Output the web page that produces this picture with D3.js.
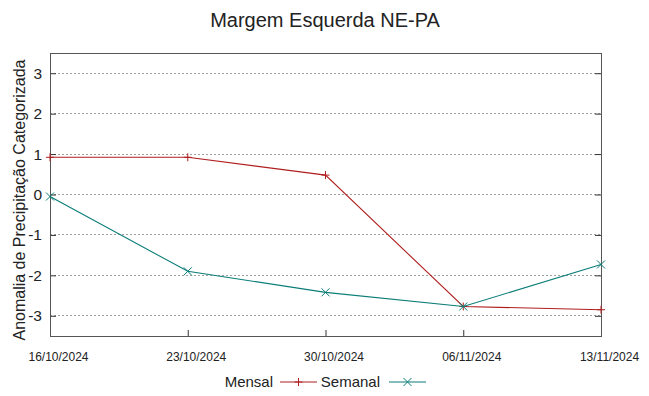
<!DOCTYPE html>
<html>
<head>
<meta charset="utf-8">
<script src="https://cdn.jsdelivr.net/npm/d3@7"></script>
<style>
  body { margin: 0; background: #fff; }
  svg text { font-family: "Liberation Sans", Arial, sans-serif; fill: #222; }
</style>
</head>
<body>
<svg id="chart"></svg>
<script>
// Data
const dates = ["16/10/2024", "23/10/2024", "30/10/2024", "06/11/2024", "13/11/2024"];
const mensal = [0.92, 0.92, 0.48, -2.77, -2.85];
const semanal = [-0.05, -1.9, -2.42, -2.77, -1.73];
const yTicks = [-3, -2, -1, 0, 1, 2, 3];

const width = 649, height = 396;
const margin = { top: 53, right: 48, bottom: 60, left: 50 };
const innerW = width - margin.left - margin.right;
const innerH = height - margin.top - margin.bottom;

const parse = d3.timeParse("%d/%m/%Y");
const fmt = d3.timeFormat("%d/%m/%Y");

const svg = d3.select("#chart").attr("width", width).attr("height", height);
const chart = svg.append("g").attr("transform", `translate(${margin.left},${margin.top})`);

const x = d3.scaleTime()
  .domain(d3.extent(dates, parse))
  .range([0, innerW]);
const y = d3.scaleLinear().domain([-3.5, 3.5]).range([innerH, 0]);

// grid lines
chart.append("g")
  .selectAll("line")
  .data(yTicks)
  .join("line")
  .attr("x1", 0).attr("x2", innerW)
  .attr("y1", d => y(d)).attr("y2", d => y(d))
  .attr("stroke", "#a0a0a0")
  .attr("stroke-dasharray", "2,2")
  .attr("shape-rendering", "crispEdges");

// axes with inward ticks (gnuplot style)
const yAxisL = d3.axisLeft(y).tickValues(yTicks).tickSize(-6).tickSizeOuter(0)
  .tickPadding(8).tickFormat(d => String(d));
const yAxisR = d3.axisRight(y).tickValues(yTicks).tickSize(-6).tickSizeOuter(0).tickFormat("");
const xAxis = d3.axisBottom(x).tickValues(dates.map(parse)).tickSize(-6).tickSizeOuter(0)
  .tickFormat(fmt).tickPadding(16);

const gy = chart.append("g").call(yAxisL);
gy.selectAll("text").style("font-size", "15.5px");
chart.append("g").attr("transform", `translate(${innerW},0)`).call(yAxisR);
const gx = chart.append("g").attr("transform", `translate(0,${innerH})`).call(xAxis);
gx.selectAll("text").style("font-size", "12px").attr("dx", 8);
chart.selectAll(".domain").remove();
chart.selectAll(".tick line").attr("stroke", "#333");

// border
chart.append("rect")
  .attr("x", 0).attr("y", 0)
  .attr("width", innerW).attr("height", innerH)
  .attr("fill", "none")
  .attr("stroke", "#555")
  .attr("shape-rendering", "crispEdges");

const series = [
  { name: "Mensal", values: mensal, color: "#b01e1e", marker: "plus" },
  { name: "Semanal", values: semanal, color: "#0a7d78", marker: "cross" }
];

const line = d3.line()
  .x((d, i) => x(parse(dates[i])))
  .y(d => y(d));

function marker(g, type, cx, cy, color) {
  const s = 4;
  const p = type === "plus"
    ? `M${cx - s},${cy}H${cx + s}M${cx},${cy - s}V${cy + s}`
    : `M${cx - s},${cy - s}L${cx + s},${cy + s}M${cx - s},${cy + s}L${cx + s},${cy - s}`;
  g.append("path").attr("d", p).attr("stroke", color).attr("stroke-width", 1).attr("fill", "none");
}

series.forEach(s => {
  chart.append("path")
    .datum(s.values)
    .attr("d", line)
    .attr("fill", "none")
    .attr("stroke", s.color)
    .attr("stroke-width", 1.1);
  const mg = chart.append("g");
  s.values.forEach((v, i) => marker(mg, s.marker, x(parse(dates[i])), y(v), s.color));
});

// title
svg.append("text")
  .attr("x", 325).attr("y", 27)
  .attr("text-anchor", "middle")
  .style("font-size", "20px")
  .text("Margem Esquerda NE-PA");

// y axis title
svg.append("text")
  .attr("transform", `translate(25,200) rotate(-90)`)
  .attr("text-anchor", "middle")
  .style("font-size", "16px")
  .text("Anomalia de Precipitação Categorizada");

// legend
const legend = svg.append("g");
const legendItems = [
  { s: series[0], textEnd: 273, x0: 280, x1: 317 },
  { s: series[1], textEnd: 380, x0: 389, x1: 426 }
];
legendItems.forEach(d => {
  legend.append("text")
    .attr("x", d.textEnd).attr("y", 387)
    .attr("text-anchor", "end")
    .style("font-size", "15px")
    .text(d.s.name);
  legend.append("line")
    .attr("x1", d.x0).attr("x2", d.x1)
    .attr("y1", 382).attr("y2", 382)
    .attr("stroke", d.s.color)
    .attr("stroke-width", 1.1);
  marker(legend, d.s.marker, (d.x0 + d.x1) / 2, 382, d.s.color);
});
</script>
</body>
</html>
